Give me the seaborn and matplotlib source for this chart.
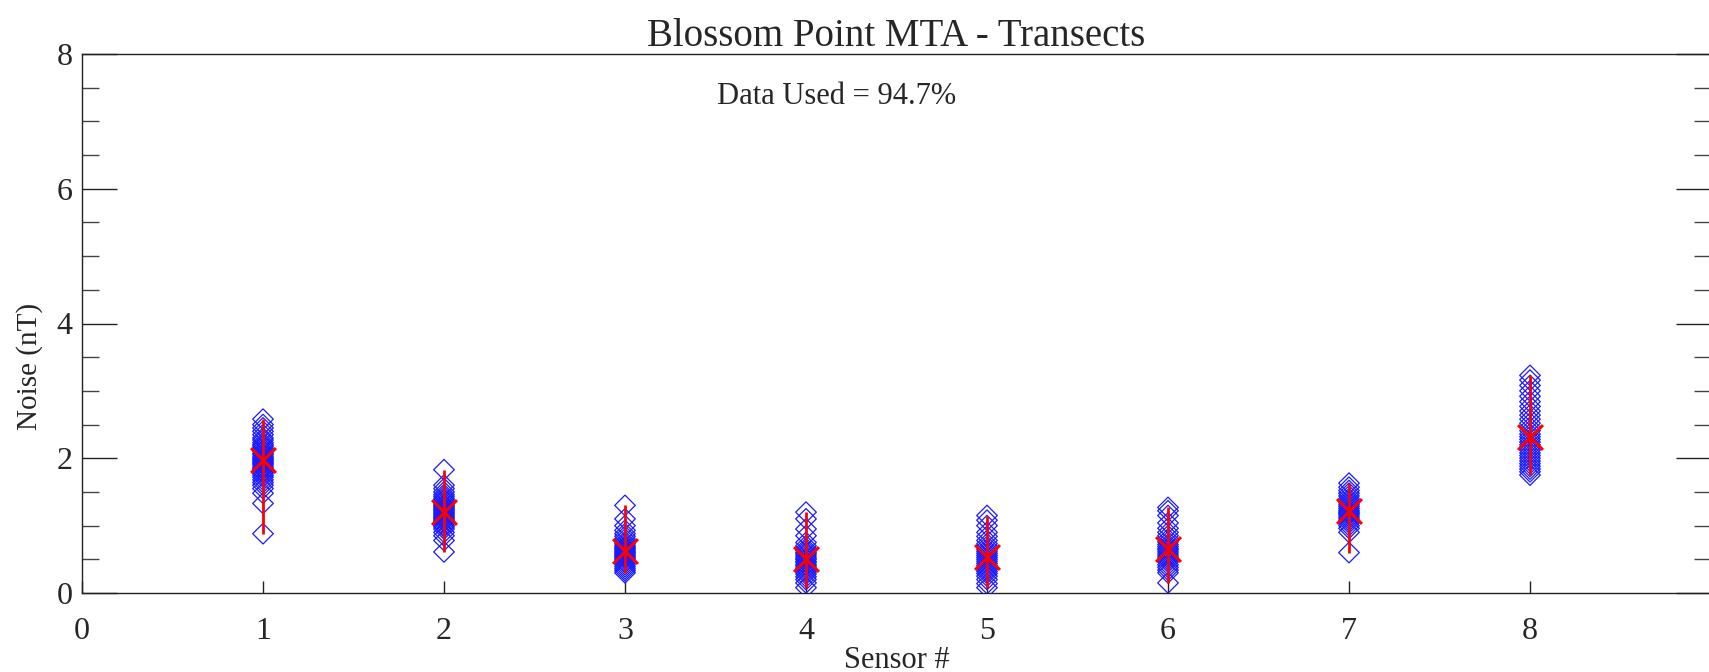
import numpy as np
import pandas as pd
import matplotlib
matplotlib.use("Agg")
import matplotlib.pyplot as plt
import seaborn as sns
from matplotlib.ticker import MultipleLocator

# ---- data ----
sensors = [1, 2, 3, 4, 5, 6, 7, 8]
s1 = [0.88, 1.33, 1.48, 1.55, 1.6, 1.64, 1.68, 1.72, 1.75, 1.78, 1.8, 1.83, 1.85, 1.87, 1.9, 1.92,
      1.94, 1.96, 1.98, 2.0, 2.02, 2.05, 2.07, 2.1, 2.12, 2.15, 2.18, 2.2, 2.23, 2.27, 2.3, 2.35,
      2.4, 2.45, 2.5, 2.58]
s2 = [0.61, 0.78, 0.85, 0.9, 0.95, 0.98, 1.0, 1.03, 1.06, 1.08, 1.1, 1.12, 1.14, 1.16, 1.18, 1.2,
      1.22, 1.24, 1.26, 1.28, 1.3, 1.32, 1.35, 1.38, 1.4, 1.43, 1.46, 1.5, 1.55, 1.6, 1.83]
s3 = [0.3, 0.33, 0.36, 0.39, 0.42, 0.45, 0.47, 0.5, 0.52, 0.54, 0.56, 0.58, 0.6, 0.62, 0.64, 0.66,
      0.68, 0.7, 0.73, 0.76, 0.8, 0.84, 0.88, 0.93, 1.0, 1.1, 1.3]
s4 = [0.08, 0.15, 0.2, 0.24, 0.28, 0.31, 0.34, 0.37, 0.4, 0.42, 0.45, 0.47, 0.5, 0.52, 0.55, 0.58,
      0.6, 0.63, 0.66, 0.7, 0.75, 0.85, 0.95, 1.1, 1.2]
s5 = [0.08, 0.14, 0.2, 0.25, 0.29, 0.32, 0.35, 0.38, 0.41, 0.44, 0.47, 0.5, 0.53, 0.56, 0.59, 0.62,
      0.65, 0.69, 0.73, 0.78, 0.84, 0.9, 1.0, 1.08, 1.15]
s6 = [0.15, 0.3, 0.34, 0.38, 0.42, 0.46, 0.49, 0.52, 0.55, 0.58, 0.61, 0.64, 0.66, 0.69, 0.72, 0.76,
      0.8, 0.85, 0.9, 0.96, 1.04, 1.15, 1.22, 1.27]
s7 = [0.6, 0.9, 0.96, 1.0, 1.04, 1.07, 1.1, 1.13, 1.16, 1.18, 1.2, 1.22, 1.25, 1.28, 1.31, 1.34,
      1.37, 1.4, 1.44, 1.48, 1.52, 1.57, 1.63]
s8 = [1.75, 1.8, 1.84, 1.88, 1.92, 1.96, 2.0, 2.04, 2.08, 2.12, 2.16, 2.2, 2.24, 2.28, 2.32, 2.36,
      2.41, 2.46, 2.52, 2.58, 2.64, 2.7, 2.77, 2.84, 2.92, 3.0, 3.08, 3.16, 3.23]
series = [s1, s2, s3, s4, s5, s6, s7, s8]
x_ticks = [0, 1, 2, 3, 4, 5, 6, 7, 8]
y_ticks = [0, 2, 4, 6, 8]
title = "Blossom Point MTA - Transects"
annotation = "Data Used = 94.7%"

df = pd.DataFrame({
    "sensor": np.concatenate([[s] * len(v) for s, v in zip(sensors, series)]),
    "noise": np.concatenate(series),
})
stats = df.groupby("sensor")["noise"].agg(["median", "min", "max"]).reset_index()

# ---- plot ----
sns.set_style("white")
plt.rcParams["font.family"] = ["Liberation Serif", "DejaVu Serif"]

fig = plt.figure(figsize=(17.09, 6.72), dpi=100)
ax = fig.add_axes([82 / 1709, 1 - 593 / 672, (1711 - 82) / 1709, (593 - 54) / 672])

sns.scatterplot(data=df, x="sensor", y="noise", ax=ax, marker="D", s=110,
                facecolor="none", edgecolor="#1a1aff", linewidth=0.9, zorder=2)
ax.vlines(stats["sensor"], stats["min"], stats["max"], color="red", linewidth=2.0, zorder=3)
sns.scatterplot(data=stats, x="sensor", y="median", ax=ax, marker="x", s=320,
                color="red", linewidth=2.2, zorder=4)

ax.set_xlim(0, 9)
ax.set_ylim(0, 8)
ax.set_xticks(x_ticks)
ax.set_xticklabels([str(t) for t in x_ticks])
ax.set_yticks(y_ticks)
ax.set_yticklabels([str(t) for t in y_ticks])
ax.yaxis.set_minor_locator(MultipleLocator(0.5))
ax.tick_params(axis="y", which="major", direction="in", length=25, width=1.0,
               left=True, right=True, labelsize=23, color="#222222", pad=7)
ax.tick_params(axis="y", which="minor", direction="in", length=12, width=1.0,
               left=True, right=True, color="#444444")
ax.tick_params(axis="x", which="major", direction="in", length=9, width=1.0,
               bottom=True, top=False, labelsize=23, color="#222222", pad=17)

for sp in ax.spines.values():
    sp.set_color("#222222")
    sp.set_linewidth(1.0)

ax.set_xlabel("Sensor #", fontsize=22, labelpad=0)
ax.set_ylabel("Noise (nT)", fontsize=21, labelpad=6)
ax.yaxis.set_label_coords(-0.024, 0.42)
ax.set_title(title, fontsize=28, pad=6)
ax.text(0.463, 0.922, annotation, transform=ax.transAxes, ha="center", va="center", fontsize=22)

fig.savefig("out.png", dpi=100)
